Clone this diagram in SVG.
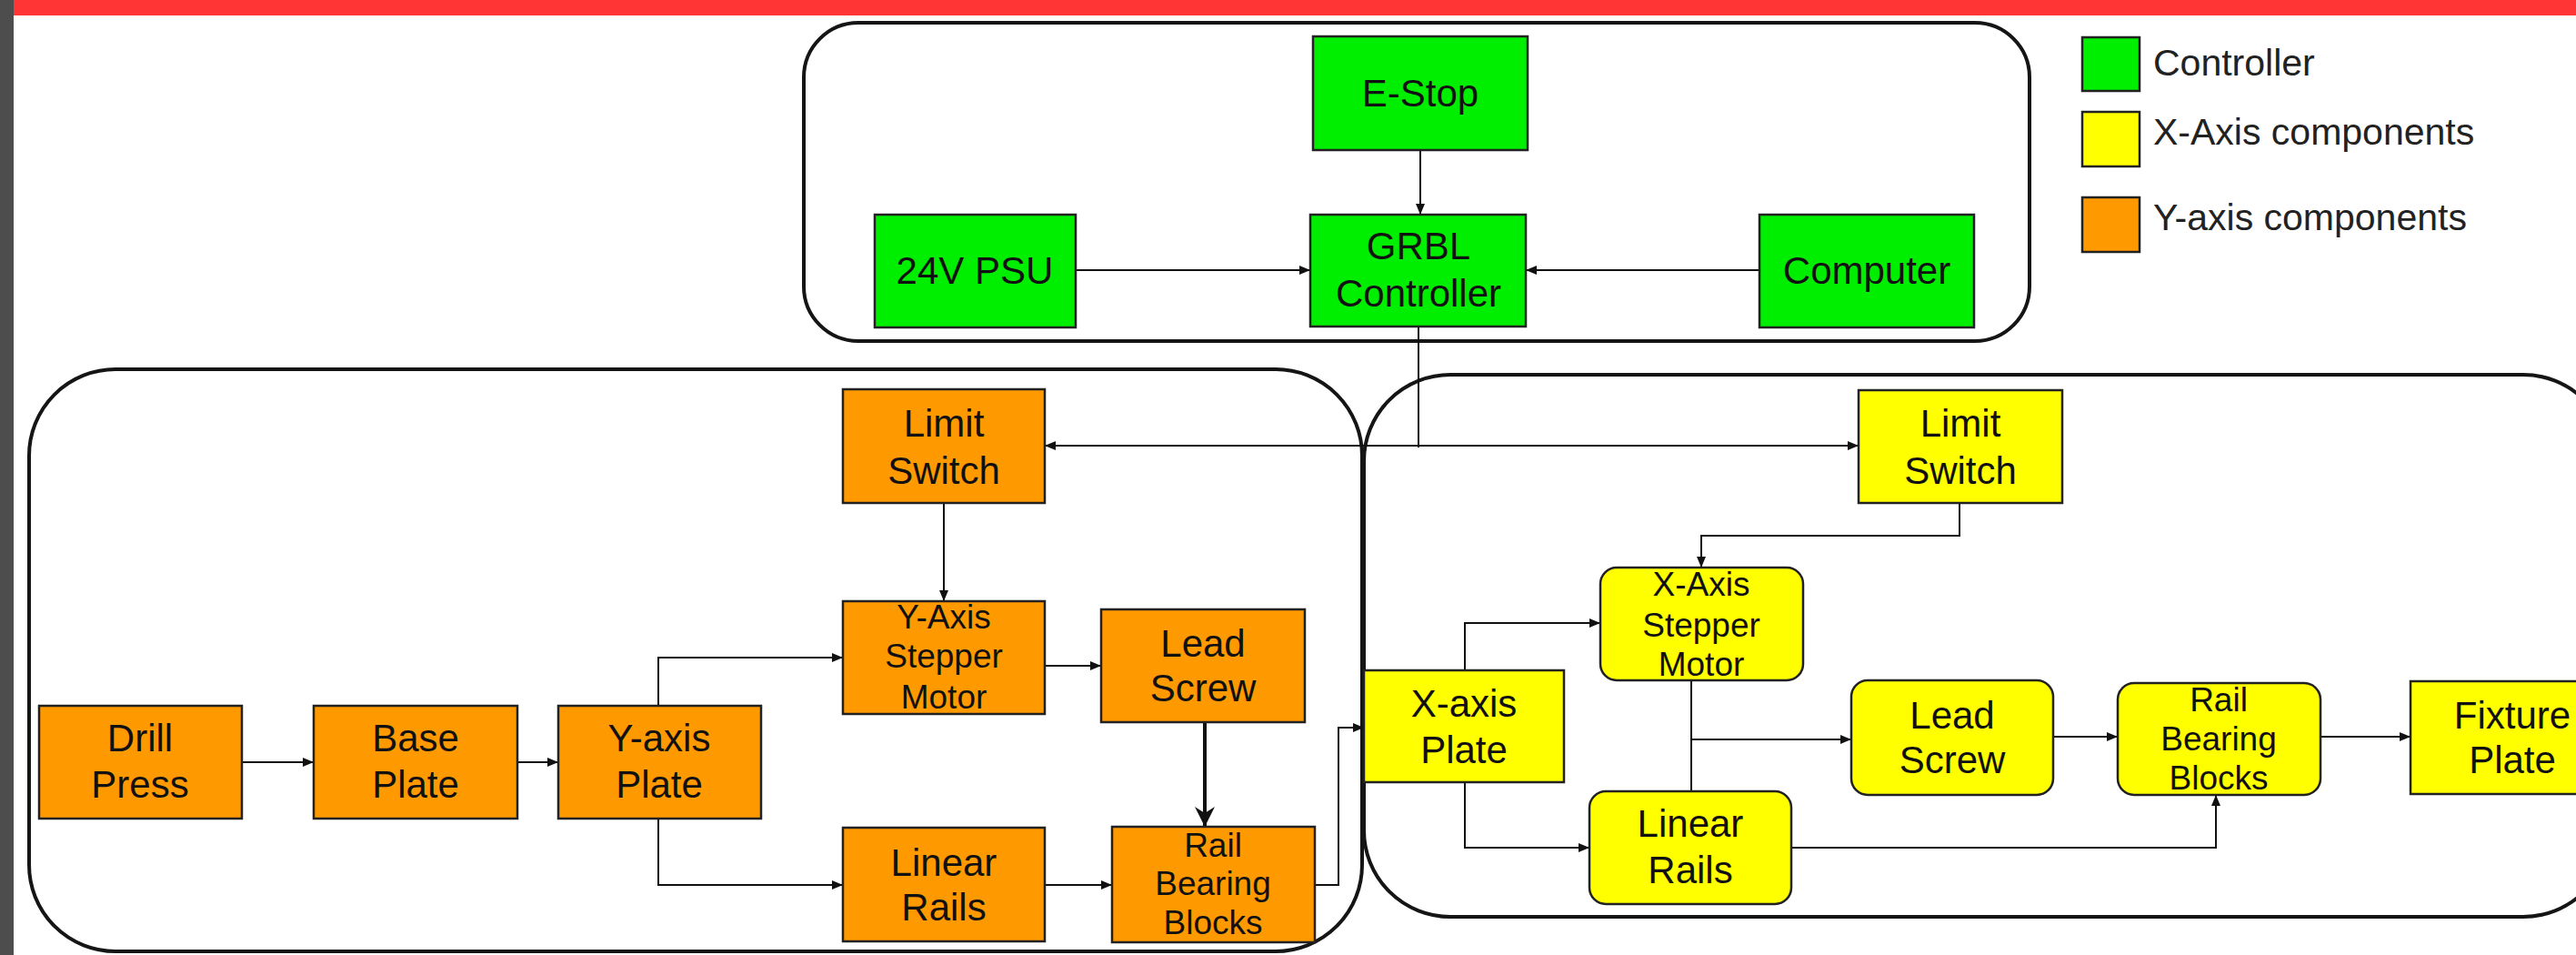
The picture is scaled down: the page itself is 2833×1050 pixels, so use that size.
<svg xmlns="http://www.w3.org/2000/svg" width="2833" height="1050" viewBox="0 0 2833 1050">
<style>
.bg{fill:#ffffff}
.cont{fill:none;stroke:#151515;stroke-width:4}
.g{fill:#00ee00;stroke:#222;stroke-width:2.5}
.y{fill:#ffff00;stroke:#222;stroke-width:2.5}
.o{fill:#ff9900;stroke:#222;stroke-width:2.5}
text{font-family:"Liberation Sans",Arial,sans-serif;fill:#111;text-anchor:middle}
.t2{font-size:42px}
.t3{font-size:37px}
.lg{font-size:41px;text-anchor:start;fill:#222}
.c{fill:none;stroke:#111;stroke-width:2}
.ct{fill:none;stroke:#111;stroke-width:4}
</style>
<defs>
<marker id="ah" viewBox="0 0 12 10" refX="12" refY="5" markerWidth="12" markerHeight="10" orient="auto" markerUnits="userSpaceOnUse"><path d="M0,0 L12,5 L0,10 z" fill="#111"/></marker>
<marker id="ahb" viewBox="0 0 22 22" refX="22" refY="11" markerWidth="22" markerHeight="22" orient="auto" markerUnits="userSpaceOnUse"><path d="M0,0 L22,11 L0,22 L7,11 z" fill="#111"/></marker>
</defs>
<rect class="bg" x="0" y="0" width="2833" height="1050"/>
<rect x="0" y="0" width="2833" height="17" fill="#ff3535"/>
<rect x="0" y="0" width="15" height="1050" fill="#4d4d4d"/>

<g id="containers">
<rect id="controller-group" class="cont" x="884" y="25" width="1348" height="350" rx="60" ry="60"/>
<rect id="y-axis-group" class="cont" x="32" y="406" width="1466" height="640" rx="95" ry="95"/>
<rect id="x-axis-group" class="cont" x="1500" y="412" width="1370" height="596" rx="95" ry="95"/>
</g>

<g id="connectors">
<line class="c" x1="1562" y1="165" x2="1562" y2="236" marker-end="url(#ah)"/>
<line class="c" x1="1183" y1="297" x2="1441" y2="297" marker-end="url(#ah)"/>
<line class="c" x1="1935" y1="297" x2="1678" y2="297" marker-end="url(#ah)"/>
<line class="c" x1="1560" y1="359" x2="1560" y2="492"/>
<line class="c" x1="1560" y1="490" x2="1149" y2="490" marker-end="url(#ah)"/>
<line class="c" x1="1560" y1="490" x2="2044" y2="490" marker-end="url(#ah)"/>
<line class="c" x1="1038" y1="553" x2="1038" y2="661" marker-end="url(#ah)"/>
<path class="c" d="M724,776 V723 H927" marker-end="url(#ah)"/>
<path class="c" d="M724,900 V973 H927" marker-end="url(#ah)"/>
<line class="c" x1="266" y1="838" x2="345" y2="838" marker-end="url(#ah)"/>
<line class="c" x1="569" y1="838" x2="614" y2="838" marker-end="url(#ah)"/>
<line class="c" x1="1149" y1="732" x2="1211" y2="732" marker-end="url(#ah)"/>
<line class="ct" x1="1325" y1="794" x2="1325" y2="909" marker-end="url(#ahb)"/>
<line class="c" x1="1149" y1="973" x2="1223" y2="973" marker-end="url(#ah)"/>
<path class="c" d="M1446,973 H1472 V800 H1500" marker-end="url(#ah)"/>
<path class="c" d="M2155,553 V589 H1871 V624" marker-end="url(#ah)"/>
<path class="c" d="M1611,737 V685 H1760" marker-end="url(#ah)"/>
<path class="c" d="M1611,860 V932 H1748" marker-end="url(#ah)"/>
<line class="c" x1="1860" y1="748" x2="1860" y2="870"/>
<line class="c" x1="1860" y1="813" x2="2036" y2="813" marker-end="url(#ah)"/>
<path class="c" d="M1970,932 H2437 V874" marker-end="url(#ah)"/>
<line class="c" x1="2258" y1="810" x2="2329" y2="810" marker-end="url(#ah)"/>
<line class="c" x1="2552" y1="810" x2="2651" y2="810" marker-end="url(#ah)"/>
</g>

<g id="e-stop"><rect class="g" x="1444" y="40" width="236" height="125"/><text class="t2" x="1562" y="117">E-Stop</text></g>
<g id="psu"><rect class="g" x="962" y="236" width="221" height="124"/><text class="t2" x="1072" y="312">24V PSU</text></g>
<g id="grbl"><rect class="g" x="1441" y="236" width="237" height="123"/><text class="t2" x="1560" y="285">GRBL</text><text class="t2" x="1560" y="337">Controller</text></g>
<g id="computer"><rect class="g" x="1935" y="236" width="236" height="124"/><text class="t2" x="2053" y="312">Computer</text></g>

<g id="drill-press"><rect class="o" x="43" y="776" width="223" height="124"/><text class="t2" x="154" y="826">Drill</text><text class="t2" x="154" y="877">Press</text></g>
<g id="base-plate"><rect class="o" x="345" y="776" width="224" height="124"/><text class="t2" x="457" y="826">Base</text><text class="t2" x="457" y="877">Plate</text></g>
<g id="y-axis-plate"><rect class="o" x="614" y="776" width="223" height="124"/><text class="t2" x="725" y="826">Y-axis</text><text class="t2" x="725" y="877">Plate</text></g>
<g id="y-limit-switch"><rect class="o" x="927" y="428" width="222" height="125"/><text class="t2" x="1038" y="480">Limit</text><text class="t2" x="1038" y="532">Switch</text></g>
<g id="y-stepper"><rect class="o" x="927" y="661" width="222" height="124"/><text class="t3" x="1038" y="691">Y-Axis</text><text class="t3" x="1038" y="734">Stepper</text><text class="t3" x="1038" y="779">Motor</text></g>
<g id="y-lead-screw"><rect class="o" x="1211" y="670" width="224" height="124"/><text class="t2" x="1323" y="722">Lead</text><text class="t2" x="1323" y="771">Screw</text></g>
<g id="y-linear-rails"><rect class="o" x="927" y="910" width="222" height="125"/><text class="t2" x="1038" y="963">Linear</text><text class="t2" x="1038" y="1012">Rails</text></g>
<g id="y-rail-bearing"><rect class="o" x="1223" y="909" width="223" height="127"/><text class="t3" x="1334" y="942">Rail</text><text class="t3" x="1334" y="984">Bearing</text><text class="t3" x="1334" y="1027">Blocks</text></g>

<g id="x-axis-plate"><rect class="y" x="1500" y="737" width="220" height="123"/><text class="t2" x="1610" y="788">X-axis</text><text class="t2" x="1610" y="839">Plate</text></g>
<g id="x-limit-switch"><rect class="y" x="2044" y="429" width="224" height="124"/><text class="t2" x="2156" y="480">Limit</text><text class="t2" x="2156" y="532">Switch</text></g>
<g id="x-stepper"><rect class="y" x="1760" y="624" width="223" height="124" rx="18" ry="18"/><text class="t3" x="1871" y="655">X-Axis</text><text class="t3" x="1871" y="700">Stepper</text><text class="t3" x="1871" y="743">Motor</text></g>
<g id="x-linear-rails"><rect class="y" x="1748" y="870" width="222" height="124" rx="18" ry="18"/><text class="t2" x="1859" y="920">Linear</text><text class="t2" x="1859" y="971">Rails</text></g>
<g id="x-lead-screw"><rect class="y" x="2036" y="748" width="222" height="126" rx="18" ry="18"/><text class="t2" x="2147" y="801">Lead</text><text class="t2" x="2147" y="850">Screw</text></g>
<g id="x-rail-bearing"><rect class="y" x="2329" y="751" width="223" height="123" rx="18" ry="18"/><text class="t3" x="2440" y="782">Rail</text><text class="t3" x="2440" y="825">Bearing</text><text class="t3" x="2440" y="868">Blocks</text></g>
<g id="fixture-plate"><rect class="y" x="2651" y="749" width="223" height="124"/><text class="t2" x="2763" y="801">Fixture</text><text class="t2" x="2763" y="850">Plate</text></g>

<g id="legend">
<rect class="g" x="2290" y="41" width="63" height="59"/><text class="lg" x="2368" y="83">Controller</text>
<rect class="y" x="2290" y="123" width="63" height="60"/><text class="lg" x="2368" y="159">X-Axis components</text>
<rect class="o" x="2290" y="217" width="63" height="60"/><text class="lg" x="2368" y="253">Y-axis components</text>
</g>
</svg>
